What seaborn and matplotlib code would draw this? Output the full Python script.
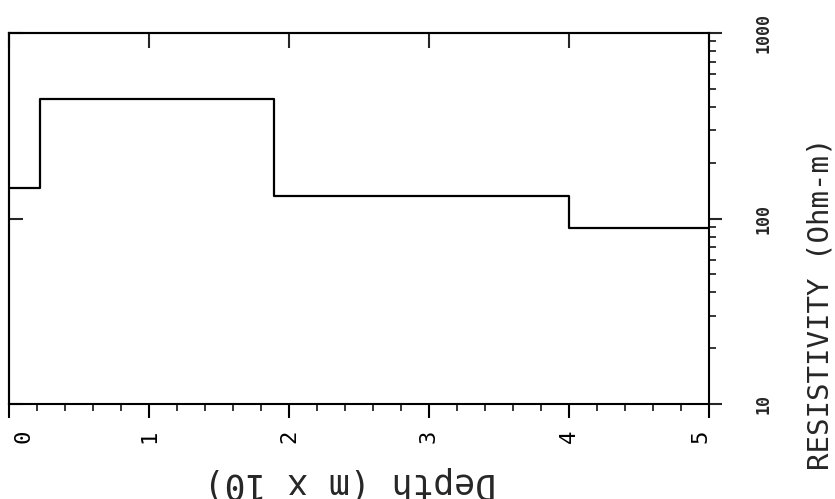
import matplotlib
matplotlib.use("Agg")
import matplotlib.pyplot as plt
import matplotlib.transforms as mtransforms
import seaborn as sns
import pandas as pd
from matplotlib.ticker import NullLocator, LogLocator, MultipleLocator

# layered earth model (depth in m x 10, resistivity in Ohm-m)
depth = [0.0, 0.22, 1.89, 4.0, 5.0]
resistivity = [146, 440, 132, 89, 89]

depth_ticks = [0, 1, 2, 3, 4, 5]
res_ticks = [10, 100, 1000]
res_labels = ["10", "100", "1000"]

df = pd.DataFrame({"Depth": depth, "Resistivity": resistivity})

sns.set_style("ticks")
plt.rcParams["font.family"] = ["DejaVu Sans Mono", "DejaVu Sans"]

fig, ax = plt.subplots(figsize=(8.35, 4.99), dpi=100)
fig.subplots_adjust(left=0.011, right=0.849, top=0.934, bottom=0.19)

sns.lineplot(data=df, x="Depth", y="Resistivity", drawstyle="steps-post",
             estimator=None, color="black", linewidth=1.6, ax=ax)

ax.set_yscale("log")
ax.set_xlim(0, 5)
ax.set_ylim(10, 1000)

for s in ax.spines.values():
    s.set_visible(True)
    s.set_linewidth(1.5)
    s.set_color("black")

# bottom axis: depth
ax.set_xticks(depth_ticks)
ax.set_xticklabels([str(t) for t in depth_ticks], rotation=90, fontsize=16)
ax.xaxis.set_minor_locator(MultipleLocator(0.2))
ax.tick_params(axis="x", which="major", direction="out", length=10,
               width=1.5, pad=8, colors="black")
ax.tick_params(axis="x", which="minor", direction="out", length=5,
               width=1.3)

# end labels are pulled inside the frame, as in the original plot
xlabs = ax.get_xticklabels()
for lab, dx in [(xlabs[0], 14), (xlabs[-1], -8)]:
    lab.set_transform(lab.get_transform() +
                      mtransforms.ScaledTranslation(dx / 100, 0, fig.dpi_scale_trans))

# right axis: resistivity
ax.yaxis.tick_right()
ax.set_yticks(res_ticks)
ax.set_yticklabels(res_labels, rotation=90, fontsize=12, va="center",
                   fontweight="bold")
ax.yaxis.set_minor_locator(LogLocator(base=10, subs=range(2, 10)))
ax.yaxis.set_minor_formatter(plt.NullFormatter())
ax.tick_params(axis="y", which="major", direction="out", length=9,
               width=1.5, pad=24)
ax.tick_params(axis="y", which="minor", direction="out", length=5,
               width=1.3)

ax.set_xlabel("Depth (m x 10)", fontsize=25, rotation=180)
ax.xaxis.set_label_coords(0.487, -0.213)
ax.xaxis.label.set_va("center")
ax.set_ylabel("RESISTIVITY (Ohm-m)", fontsize=21, rotation=90)
ax.yaxis.set_label_position("right")
ax.yaxis.set_label_coords(1.16, 0.27)
ax.yaxis.label.set_va("center")
ax.yaxis.label.set_ha("center")

# inward ticks on top and left
top = ax.secondary_xaxis("top")
top.set_xticks(depth_ticks)
top.set_xticklabels([])
top.xaxis.set_minor_locator(NullLocator())
top.tick_params(direction="in", length=11, width=1.5)
top.spines["top"].set_linewidth(1.5)

left = ax.secondary_yaxis("left")
left.set_yticks(res_ticks)
left.set_yticklabels([])
left.yaxis.set_minor_locator(NullLocator())
left.tick_params(direction="in", length=10, width=1.5)
left.spines["left"].set_linewidth(1.5)

fig.savefig("out.png", dpi=100)
